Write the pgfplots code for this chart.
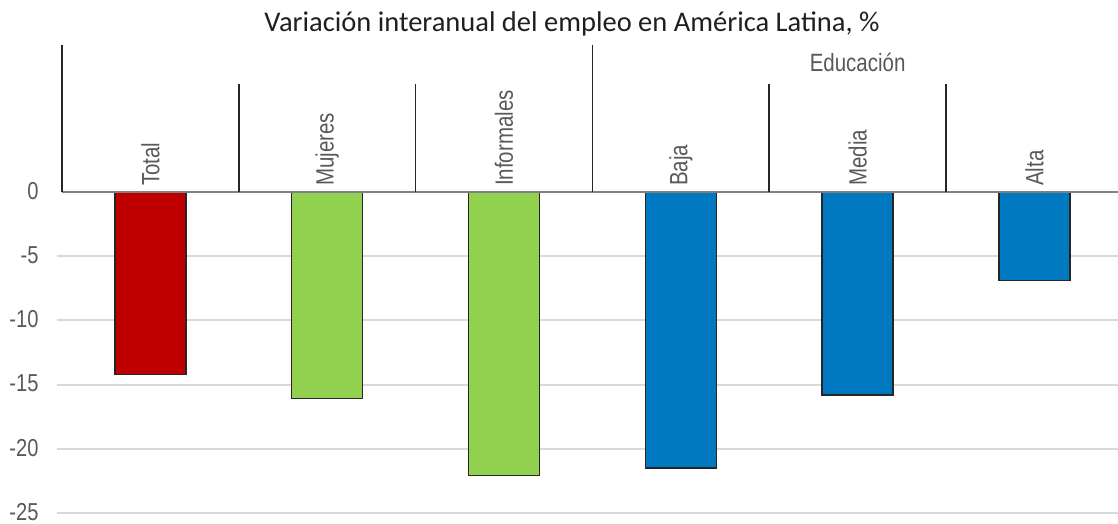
\documentclass[border=0pt]{standalone}
\usepackage{fontspec}
\setmainfont{Liberation Sans}
\newfontfamily\narrow[FakeStretch=0.82]{Liberation Sans}
\newfontfamily\titlefont{Carlito}
\usepackage{pgfplots}
\pgfplotsset{compat=1.18}
\definecolor{cred}{HTML}{C00000}
\definecolor{cgreen}{HTML}{92D050}
\definecolor{cblue}{HTML}{0079C1}
\definecolor{txt}{HTML}{595959}
\definecolor{grid}{HTML}{D9D9D9}
\definecolor{zero}{HTML}{808080}
\begin{document}
\begin{tikzpicture}[x=1pt,y=1pt]
\path[use as bounding box] (-62,-11) rectangle (1056,513);
\begin{axis}[
  at={(0,0)}, anchor=south west,
  scale only axis, width=1056pt, height=468pt,
  xmin=-0.5, xmax=5.473, ymin=-25, ymax=11.45,
  axis x line=none,
  axis y line*=left,
  y axis line style={draw=none},
  ybar, bar width=71pt,
  every axis plot/.append style={bar shift=0pt},
  ytick={0,-5,-10,-15,-20,-25},
  xtick=\empty,
  /pgf/number format/assume math mode=true,
  yticklabel style={font=\narrow\fontsize{24.5}{27}\selectfont, text=txt, anchor=east, xshift=-20pt, yshift=1pt},
  major tick length=0pt,
  clip=false,
]
% gridlines
\foreach \v in {-5,-10,-15,-20,-25}{
  \edef\tmp{\noexpand\draw[grid, line width=2pt] (axis cs:-0.53,\v) -- (axis cs:5.473,\v);}
  \tmp
}
\addplot[fill=cred, draw=black!85, line width=1.3pt] coordinates {(0,-14.2)};
\addplot[fill=cgreen, draw=black!85, line width=1.3pt] coordinates {(1,-16.1) (2,-22.1)};
\addplot[fill=cblue, draw=black!85, line width=1.3pt] coordinates {(3,-21.5) (4,-15.8) (5,-6.9)};
% zero line
\draw[zero, line width=2pt] (axis cs:-0.5,0) -- (axis cs:5.473,0);
% separators
\draw[black!85, line width=1.5pt] (axis cs:-0.5,0) -- (axis cs:-0.5,11.45);
\draw[black!85, line width=1.5pt] (axis cs:2.5,0) -- (axis cs:2.5,11.45);
\foreach \s in {0.5,1.5,3.5,4.5}{
  \edef\tmp{\noexpand\draw[black!85, line width=1.5pt] (axis cs:\s,0) -- (axis cs:\s,8.41);}
  \tmp
}
% category labels
\foreach \i/\lab in {0/Total,1/Mujeres,2/Informales,3/Baja,4/Media,5/Alta}{
  \edef\tmp{\noexpand\node[rotate=90, anchor=west, inner sep=0pt, xshift=6pt, text=txt, font=\noexpand\narrow\noexpand\fontsize{25}{28}\noexpand\selectfont] at (axis cs:\i,0) {\lab};}
  \tmp
}
\node[text=txt, font=\narrow\fontsize{25}{28}\selectfont] at (axis cs:4,10.1) {Educación};
\end{axis}
\node[anchor=base, font=\titlefont\fontsize{28.5}{32}\selectfont, text=black!88] at (510,481) {Variación interanual del empleo en América Latina, \%};
\end{tikzpicture}
\end{document}
